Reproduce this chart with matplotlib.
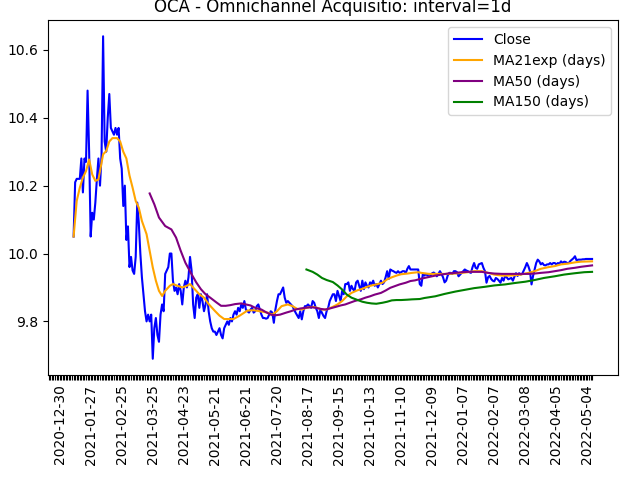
import numpy as np
import matplotlib
matplotlib.use("Agg")
import matplotlib.pyplot as plt

# tick labels, one every 20 trading days
tick_labels = ["2020-12-30", "2021-01-27", "2021-02-25", "2021-03-25", "2021-04-23",
               "2021-05-21", "2021-06-21", "2021-07-20", "2021-08-17", "2021-09-15",
               "2021-10-13", "2021-11-10", "2021-12-09", "2022-01-07", "2022-02-07",
               "2022-03-08", "2022-04-05", "2022-05-04"]

# first trading-day index with a close value
close_start = 9
close = [
    10.05, 10.21, 10.22, 10.22, 10.22, 10.28, 10.18, 10.28, 10.27, 10.48,
    10.30, 10.05, 10.12, 10.10, 10.15, 10.22, 10.28, 10.20, 10.29, 10.64,
    10.33, 10.30, 10.40, 10.47, 10.37, 10.36, 10.35, 10.37, 10.35, 10.37,
    10.28, 10.25, 10.14, 10.20, 10.04, 10.08, 9.96, 9.99, 9.95, 9.94,
    9.99, 10.15, 10.09, 10.00, 9.93, 9.88, 9.83, 9.80, 9.82, 9.80,
    9.82, 9.69, 9.78, 9.81, 9.76, 9.74, 9.82, 9.85, 9.83, 9.94,
    9.95, 9.96, 10.00, 10.00, 9.92, 9.89, 9.90, 9.88, 9.91, 9.89,
    9.85, 9.90, 9.92, 9.90, 9.93, 9.99, 9.95, 9.85, 9.81, 9.87,
    9.88, 9.84, 9.88, 9.86, 9.83, 9.85, 9.88, 9.83, 9.80, 9.78,
    9.77, 9.77, 9.76, 9.77, 9.78, 9.76, 9.75, 9.78, 9.79, 9.80,
    9.79, 9.81, 9.80, 9.82, 9.83, 9.82, 9.84, 9.83, 9.85, 9.84,
    9.86, 9.835, 9.83, 9.826, 9.835, 9.84, 9.826, 9.83, 9.845, 9.85,
    9.835, 9.82, 9.81, 9.81, 9.808, 9.81, 9.82, 9.83, 9.826, 9.796,
    9.835, 9.86, 9.88, 9.88, 9.89, 9.90, 9.87, 9.855, 9.86, 9.855,
    9.85, 9.845, 9.835, 9.826, 9.818, 9.81, 9.83, 9.806, 9.83, 9.845,
    9.845, 9.85, 9.845, 9.84, 9.86, 9.855, 9.84, 9.83, 9.81, 9.835,
    9.825, 9.816, 9.81, 9.83, 9.84, 9.86, 9.87, 9.88, 9.88, 9.86,
    9.89, 9.875, 9.86, 9.89, 9.88, 9.91, 9.91, 9.915, 9.89, 9.905,
    9.895, 9.89, 9.915, 9.92, 9.905, 9.89, 9.92, 9.895, 9.915, 9.905,
    9.90, 9.915, 9.91, 9.92, 9.905, 9.91, 9.90, 9.91, 9.92, 9.91,
    9.915, 9.93, 9.948, 9.925, 9.953, 9.95, 9.948, 9.945, 9.943, 9.948,
    9.943, 9.945, 9.948, 9.948, 9.943, 9.955, 9.963, 9.953, 9.953, 9.953,
    9.953, 9.953, 9.953, 9.91, 9.905, 9.94, 9.935, 9.94, 9.935, 9.94,
    9.935, 9.942, 9.944, 9.94, 9.933, 9.94, 9.948, 9.94, 9.93, 9.915,
    9.92, 9.935, 9.943, 9.943, 9.94, 9.948, 9.948, 9.945, 9.933, 9.938,
    9.943, 9.948, 9.953, 9.95, 9.948, 9.945, 9.943, 9.96, 9.972, 9.958,
    9.955, 9.968, 9.97, 9.972, 9.958, 9.948, 9.914, 9.93, 9.934, 9.925,
    9.92, 9.918, 9.928, 9.925, 9.92, 9.914, 9.928, 9.92, 9.934, 9.93,
    9.924, 9.926, 9.928, 9.92, 9.932, 9.942, 9.934, 9.942, 9.938, 9.94,
    9.95, 9.96, 9.972, 9.962, 9.948, 9.909, 9.934, 9.953, 9.972, 9.982,
    9.977, 9.968, 9.972, 9.966, 9.965, 9.968, 9.968, 9.972, 9.968, 9.972,
    9.972, 9.968, 9.972, 9.97, 9.977, 9.972, 9.976, 9.975, 9.972, 9.972,
    9.978, 9.982, 9.986, 9.992, 9.98, 9.982, 9.982, 9.982, 9.983, 9.983,
    9.984, 9.984, 9.984, 9.984, 9.984,
]

ma21_idx = [9, 11, 13, 15, 17, 19, 21, 23, 25, 26, 28, 30, 32, 34, 37, 39, 41, 43, 45, 47,
            49, 51, 53, 56, 58, 60, 62, 64, 66, 68, 71, 73, 76, 79, 82, 84, 87, 90, 93, 96,
            100, 103, 106, 109, 112, 116, 121, 125, 129, 134, 137, 140, 143, 147, 150, 153,
            156, 159, 163, 166, 169, 172, 176, 179, 182, 185, 188, 192, 195, 198, 201, 204,
            208, 211, 214, 217, 220, 224, 227, 231, 233, 238, 242, 246, 250, 255, 259, 263,
            267, 272, 276, 280, 285, 289, 293, 297, 302, 306, 310, 315, 319, 323, 327, 332,
            336, 343]
ma21 = [10.05, 10.155, 10.194, 10.224, 10.243, 10.277, 10.233, 10.214, 10.218, 10.243,
        10.292, 10.302, 10.33, 10.34, 10.34, 10.33, 10.30, 10.28, 10.23, 10.194,
        10.155, 10.135, 10.096, 10.057, 10.008, 9.959, 9.92, 9.89, 9.875, 9.89,
        9.905, 9.91, 9.905, 9.90, 9.905, 9.91, 9.895, 9.88, 9.87, 9.851,
        9.831, 9.817, 9.807, 9.807, 9.807, 9.817, 9.832, 9.833, 9.83, 9.826,
        9.82, 9.83, 9.845, 9.85, 9.845, 9.837, 9.835, 9.84, 9.843, 9.84,
        9.835, 9.835, 9.843, 9.85, 9.86, 9.874, 9.884, 9.892, 9.896, 9.902,
        9.906, 9.909, 9.914, 9.924, 9.93, 9.935, 9.939, 9.941, 9.943, 9.945,
        9.943, 9.94, 9.94, 9.94, 9.94, 9.941, 9.943, 9.945, 9.948, 9.948,
        9.943, 9.938, 9.935, 9.935, 9.936, 9.938, 9.943, 9.948, 9.955, 9.96,
        9.963, 9.968, 9.97, 9.974, 9.976, 9.977]

ma50_idx = [58, 61, 64, 68, 72, 75, 78, 81, 85, 88, 91, 94, 97, 101, 104, 107, 110, 113,
            117, 120, 123, 126, 130, 133, 136, 139, 142, 146, 149, 152, 155, 158, 162, 165,
            168, 171, 174, 178, 181, 184, 187, 190, 194, 197, 200, 203, 207, 210, 213, 216,
            219, 223, 226, 229, 233, 238, 242, 246, 250, 255, 259, 263, 267, 272, 276, 280,
            285, 289, 293, 297, 302, 306, 310, 315, 319, 323, 327, 332, 336, 343]
ma50 = [10.177, 10.145, 10.106, 10.081, 10.071, 10.047, 10.008, 9.973, 9.939, 9.915,
        9.895, 9.88, 9.87, 9.856, 9.846, 9.846, 9.848, 9.851, 9.853, 9.85,
        9.847, 9.84, 9.835, 9.827, 9.82, 9.818, 9.82, 9.826, 9.83, 9.835,
        9.838, 9.84, 9.842, 9.84, 9.837, 9.835, 9.838, 9.843, 9.847, 9.85,
        9.855, 9.86, 9.865, 9.87, 9.874, 9.879, 9.884, 9.891, 9.899, 9.904,
        9.909, 9.914, 9.919, 9.921, 9.926, 9.931, 9.935, 9.938, 9.941, 9.943,
        9.945, 9.946, 9.946, 9.946, 9.943, 9.941, 9.94, 9.94, 9.94, 9.94,
        9.94, 9.941, 9.943, 9.945, 9.948, 9.951, 9.955, 9.958, 9.961, 9.965]

ma150_idx = [159, 163, 166, 169, 172, 176, 179, 182, 185, 188, 192, 195, 198, 201, 204,
             208, 211, 214, 217, 220, 224, 227, 232, 235, 242, 248, 255, 261, 267, 274,
             280, 287, 293, 300, 306, 312, 319, 325, 332, 338, 343]
ma150 = [9.953, 9.946, 9.938, 9.928, 9.922, 9.916, 9.906, 9.894, 9.879, 9.87,
         9.863, 9.858, 9.855, 9.853, 9.852, 9.855, 9.858, 9.862, 9.863, 9.863,
         9.864, 9.865, 9.866, 9.869, 9.874, 9.881, 9.888, 9.893, 9.898, 9.902,
         9.906, 9.909, 9.913, 9.917, 9.922, 9.928, 9.933, 9.938, 9.942, 9.945, 9.946]

close_idx = np.arange(close_start, close_start + len(close))

fig, ax = plt.subplots(figsize=(6.4, 4.8), dpi=100)
fig.subplots_adjust(left=0.0745, right=0.9656, bottom=0.219, top=0.958)

ax.plot(close_idx, close, color="blue", label="Close")
ax.plot(ma21_idx, ma21, color="orange", label="MA21exp (days)")
ax.plot(ma50_idx, ma50, color="purple", label="MA50 (days)")
ax.plot(ma150_idx, ma150, color="green", label="MA150 (days)")

ax.set_title("OCA - Omnichannel Acquisitio: interval=1d")

# a tick on every trading day, a date label on every 20th
ticks = np.arange(-7, close_idx[-1] + 1)
labels = []
for t in ticks:
    if t >= 0 and t % 20 == 0 and t // 20 < len(tick_labels):
        labels.append(tick_labels[t // 20])
    else:
        labels.append("")
ax.set_xticks(ticks)
ax.set_xticklabels(labels, rotation=90)
ax.legend(loc="upper right")

plt.savefig("out.png")
